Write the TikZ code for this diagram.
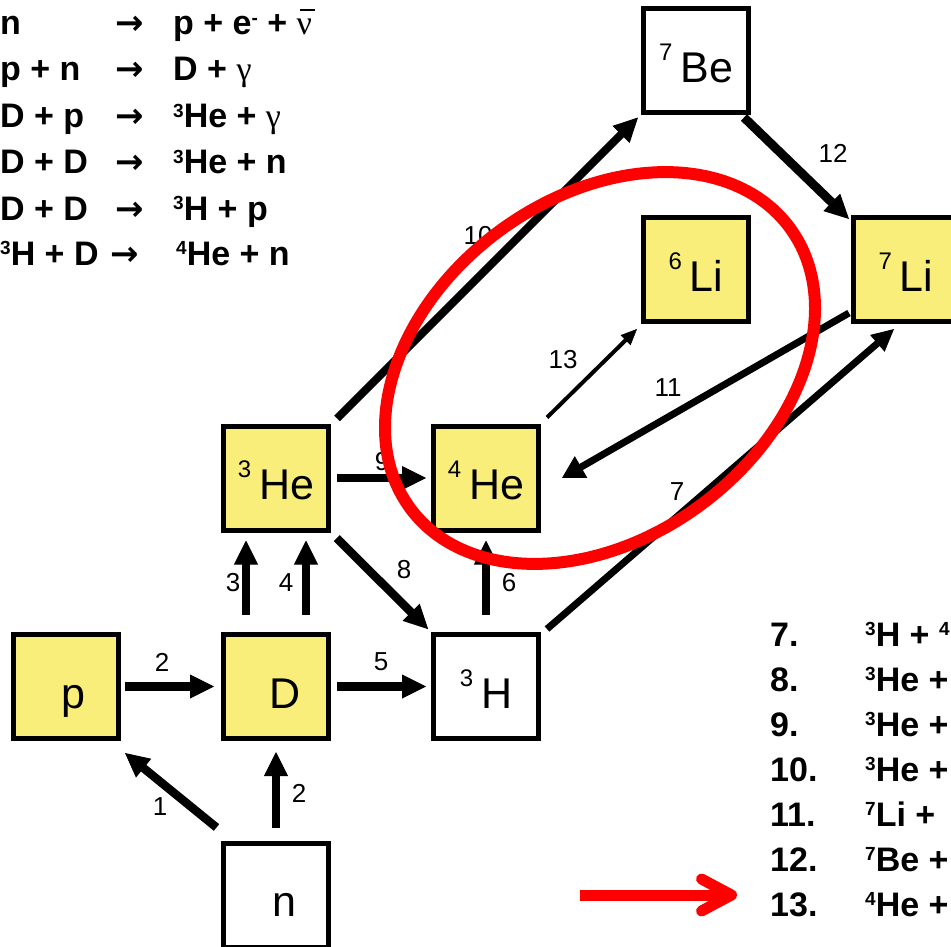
\documentclass[tikz,border=0pt]{standalone}
\usepackage{fontspec}
\setmainfont{Liberation Sans}
\newfontfamily\grk{Liberation Serif}
\newfontfamily\arr{DejaVu Sans}
\usetikzlibrary{arrows.meta,positioning}
\definecolor{nucl}{HTML}{F9EE7A}
\definecolor{hilite}{HTML}{FF0000}
\newcommand{\iso}[2]{\raisebox{22pt}{\fontsize{24pt}{24pt}\selectfont #1}\hspace{8pt}#2}
\newcommand{\sups}[1]{\raisebox{10.5pt}{\fontsize{19pt}{19pt}\selectfont #1}}
\newcommand{\gam}{{\grk\mdseries γ}}
\newcommand{\nubar}{\makebox[0pt][l]{\hspace{3pt}\raisebox{24pt}{\rule{15pt}{2.2pt}}}{\grk\mdseries ν}}
\newcommand{\yields}{{\arr →}}

\begin{document}
\begin{tikzpicture}[x=1pt, y=-1pt,
  box/.style={draw, line width=5pt, fill=white, minimum width=105pt, minimum height=104pt, inner sep=0pt,
    text height=43pt, text depth=0pt, font=\fontsize{43pt}{43pt}\selectfont},
  lit/.style={box, fill=nucl},
  rxn/.style={line width=8.5pt, -{Triangle[length=24pt,width=24pt,line width=1pt]}},
  lbl/.style={font=\fontsize{26pt}{26pt}\selectfont, inner sep=0pt},
  eq/.style={anchor=base west, inner sep=0pt, font=\fontsize{34pt}{34pt}\selectfont\bfseries}]
\useasboundingbox (0,0) rectangle (951,947);

% nuclides
\node[lit] (p) at (66,686.5) {\hspace*{14pt}p};
\node[lit, right=100pt of p] (d) {\hspace*{18pt}D};
\node[box, right=100pt of d] (h3) {\iso{3}{H}};
\node[box, below=99.5pt of d] (n) {\hspace*{16pt}n};
\node[lit, above=99.5pt of d] (he3) {\iso{3}{He}};
\node[lit, above=99.5pt of h3] (he4) {\iso{4}{He}};
\node[lit, above right=99.5pt and 100pt of he4] (li6) {\iso{6}{Li}};
\node[lit, right=100pt of li6] (li7) {\iso{7}{Li}};
\node[box, above=99.5pt of li6] (be7) {\iso{7}{Be}};

% reaction numbers
\node[lbl] (n1) at (160,807) {1};
\node[lbl] (n2a) at (162,662) {2};
\node[lbl] (n2b) at (299,793) {2};
\node[lbl] (n3) at (233,583) {3};
\node[lbl] (n4) at (286,583) {4};
\node[lbl] (n5) at (381,662) {5};
\node[lbl] (n6) at (509,583) {6};
\node[lbl] (n7) at (677,492) {7};
\node[lbl] (n8) at (404,570) {8};
\node[lbl] (n9) at (382,462) {9};
\node[lbl] (n10) at (478,236) {10};
\node[lbl] (n11) at (668,388) {11};
\node[lbl] (n12) at (833,153) {12};
\node[lbl] (n13) at (563,360) {13};

% arrows
\draw[rxn, shorten <=4pt, shorten >=7pt] (p) -- (d);
\draw[rxn, shorten <=6pt, shorten >=5pt] (d) -- (h3);
\draw[rxn, shorten <=6pt, shorten >=5pt] (he3) -- (he4);
\draw[rxn, shorten <=13pt, shorten >=11pt] (n) -- (d);
\draw[rxn] ([shift={(-4.5pt,13pt)}]n.north west) -- ([shift={(4pt,-12pt)}]p.south east);
\draw[rxn, shorten <=17pt, shorten >=8pt] ([xshift=-30pt]d.north) -- ([xshift=-30pt]he3.south);
\draw[rxn, shorten <=17pt, shorten >=8pt] ([xshift=30pt]d.north) -- ([xshift=30pt]he3.south);
\draw[rxn, shorten <=17pt, shorten >=8pt] (h3.north) -- (he4.south);
\draw[rxn, shorten <=8pt, shorten >=4pt] (he3.south east) -- (h3.north west);
\draw[rxn, line width=8pt] ([shift={(6pt,5pt)}]he3.north east) -- ([shift={(-3pt,-2pt)}]be7.south west);
\draw[rxn, line width=9pt] ([shift={(-7pt,-2pt)}]be7.south east) -- ([shift={(-2pt,-4pt)}]li7.north west);
\draw[line width=7pt, -{Triangle[length=22pt,width=22pt,line width=1pt]}]
  ([shift={(6pt,3pt)}]h3.north east) -- ([shift={(-12pt,-5pt)}]li7.south);
\draw[line width=7pt, -{Triangle[length=22pt,width=25pt,line width=1pt]}]
  ([shift={(-2pt,11pt)}]li7.south west) -- ([xshift=21pt]he4.east);
\draw[line width=4pt, -{Triangle[length=16pt,width=14pt,line width=0.5pt]}]
  ([shift={(6pt,6pt)}]he4.north east) -- ([shift={(-4pt,-5pt)}]li6.south west);

% highlight
\draw[hilite, line width=12pt, rotate around={36.5:(600,368)}] (600,368) ellipse [x radius=236pt, y radius=170pt];

% reactions 1-6
\node[eq] (e1) at (0,35) {\makebox[115pt][l]{n}\makebox[58pt][l]{\yields}p + e\sups{-} + \nubar};
\node[eq] (e2) at (0,81) {\makebox[115pt][l]{p + n}\makebox[58pt][l]{\yields}D + \gam};
\node[eq] (e3) at (0,128) {\makebox[115pt][l]{D + p}\makebox[58pt][l]{\yields}\sups{3}He + \gam};
\node[eq] (e4) at (0,174) {\makebox[115pt][l]{D + D}\makebox[58pt][l]{\yields}\sups{3}He + n};
\node[eq] (e5) at (0,220) {\makebox[115pt][l]{D + D}\makebox[58pt][l]{\yields}\sups{3}H + p};
\node[eq] (e6) at (0,265) {\makebox[110pt][l]{\sups{3}H + D}\makebox[66pt][l]{\yields}\sups{4}He + n};

% reactions 7-13
\node[eq] (r7) at (770,646) {\makebox[95pt][l]{7.}\sups{3}H + \sups{4}};
\node[eq] (r8) at (770,691) {\makebox[95pt][l]{8.}\sups{3}He +};
\node[eq] (r9) at (770,736) {\makebox[95pt][l]{9.}\sups{3}He +};
\node[eq] (r10) at (770,781) {\makebox[95pt][l]{10.}\sups{3}He +};
\node[eq] (r11) at (770,826) {\makebox[95pt][l]{11.}\sups{7}Li +};
\node[eq] (r12) at (770,871) {\makebox[95pt][l]{12.}\sups{7}Be +};
\node[eq] (r13) at (770,916) {\makebox[95pt][l]{13.}\sups{4}He +};

\coordinate (tail) at (580,895);
\draw[hilite, line width=11pt, -{Straight Barb[length=30pt,width=32pt,round]}] (tail) -- ([shift={(-33pt,21pt)}]r13.base west);
\end{tikzpicture}
\end{document}
